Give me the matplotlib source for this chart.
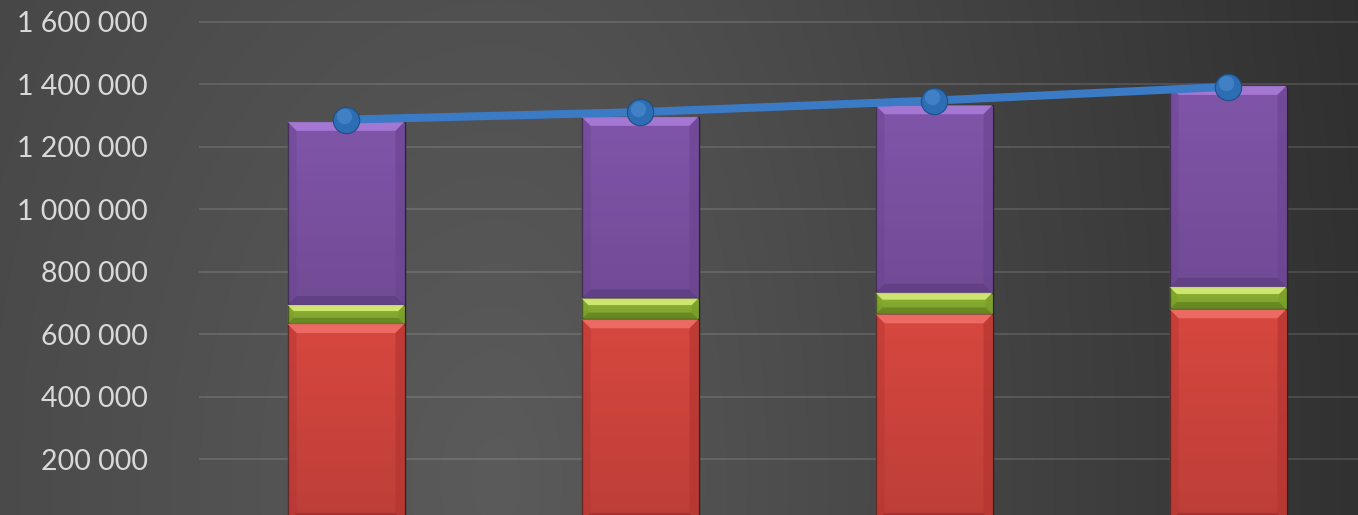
import numpy as np
import matplotlib.pyplot as plt
from matplotlib.patches import Polygon, Rectangle
from matplotlib import transforms

# Data
categories = ["1", "2", "3", "4"]
red_vals = [633000, 648000, 664000, 680000]
green_vals = [61000, 67000, 69000, 72000]
purple_vals = [586000, 581000, 600000, 643000]
line_vals = [1287000, 1311000, 1348000, 1392000]
yticks = [200000, 400000, 600000, 800000, 1000000, 1200000, 1400000, 1600000]

W, H, DPI = 1358, 515, 100
fig = plt.figure(figsize=(W / DPI, H / DPI), dpi=DPI)

# background: soft radial gradient, lighter lower left of centre
bg = fig.add_axes([0, 0, 1, 1], zorder=-10)
xx, yy = np.meshgrid(np.arange(W), np.arange(H))
cx, cy = 500, 480
sx = np.where(xx < cx, 1350.0, 923.0)
r = np.sqrt(((xx - cx) / sx) ** 2 + ((yy - cy) / 1960.0) ** 2)
v = (91 - 45 * np.clip(r, 0, 1.2)) / 255.0
bg.imshow(np.dstack([v, v, v]), extent=(0, W, H, 0), aspect="auto", interpolation="bilinear")
bg.axis("off")

# plot area (extends a little past the right edge, bottom cut off)
left_px, right_px = 199, 1375
ax = fig.add_axes([left_px / W, 0, (right_px - left_px) / W, 1])
ax.patch.set_alpha(0)
ymin, ymax = 21800, 1669800
ax.set_xlim(-0.5, len(categories) - 0.5)
ax.set_ylim(ymin, ymax)

px_y = (ymax - ymin) / H
px_x = len(categories) / (right_px - left_px)

ax.set_yticks(yticks)
ax.set_yticklabels([f"{t:,}".replace(",", " ") for t in yticks])
ax.tick_params(axis="y", length=0, pad=37, labelsize=20.5, labelcolor="#d9d9d9")
for lab in ax.get_yticklabels():
    lab.set_fontfamily(["Lato", "DejaVu Sans"])
ax.set_xticks([])
for s in ax.spines.values():
    s.set_visible(False)
ax.yaxis.grid(True, color="white", alpha=0.13, lw=1.3)
ax.set_axisbelow(True)

bar_w = 117 * px_x
shade = np.zeros((64, 1, 4))
shade[:, 0, 3] = np.linspace(0.0, 0.12, 64)  # row 0 = top (origin upper)


def bevel_segment(x, bottom, height, face, light, dark, side):
    x0, x1 = x - bar_w / 2, x + bar_w / 2
    top = bottom + height
    b = min(9, height / px_y * 0.32)
    dx, dy = b * px_x, b * px_y
    ax.add_patch(Rectangle((x0, bottom), bar_w, height, facecolor=face,
                           edgecolor="#262626", lw=1.0, zorder=2))
    # smooth darkening toward the bottom of the face
    ax.imshow(shade, extent=(x0, x1, bottom, top), aspect="auto",
              interpolation="bilinear", zorder=2.5)
    # top bevel
    ax.add_patch(Polygon([(x0, top), (x1, top), (x1 - dx, top - dy), (x0 + dx, top - dy)],
                         closed=True, facecolor=light, lw=0, alpha=0.9, zorder=3))
    # bottom bevel
    ax.add_patch(Polygon([(x0, bottom), (x1, bottom), (x1 - dx, bottom + dy), (x0 + dx, bottom + dy)],
                         closed=True, facecolor=dark, lw=0, alpha=0.55, zorder=3))
    # side bevels
    ax.add_patch(Polygon([(x0, bottom), (x0 + dx, bottom + dy), (x0 + dx, top - dy), (x0, top)],
                         closed=True, facecolor=side, lw=0, alpha=0.45, zorder=3))
    ax.add_patch(Polygon([(x1, bottom), (x1 - dx, bottom + dy), (x1 - dx, top - dy), (x1, top)],
                         closed=True, facecolor=side, lw=0, alpha=0.7, zorder=3))


xs = np.arange(len(categories))
for i in xs:
    b = 0
    bevel_segment(i, b, red_vals[i], "#d6473f", "#ef6f68", "#962826", "#b53532")
    b += red_vals[i]
    bevel_segment(i, b, green_vals[i], "#8db433", "#d6ed78", "#557419", "#7a9d28")
    b += green_vals[i]
    bevel_segment(i, b, purple_vals[i], "#8055a9", "#a97bd8", "#553778", "#6c4592")

ax.set_xlim(-0.5, len(categories) - 0.5)
ax.set_ylim(ymin, ymax)

# line with sphere-like markers
ax.plot(xs, line_vals, color="#3b7bc6", lw=5.8, solid_capstyle="butt", zorder=5)
ax.plot(xs, line_vals, ls="none", marker="o", ms=19, mfc="#2d6db3", mec="#1f4e84", mew=0.8, zorder=6)
hl = transforms.offset_copy(ax.transData, fig=fig, x=-1.5, y=2.5, units="points")
ax.plot(xs, line_vals, ls="none", marker="o", ms=11, mfc="#5a98dc", mec="none", alpha=0.45,
        transform=hl, zorder=7)

fig.savefig("out.png", dpi=DPI)
